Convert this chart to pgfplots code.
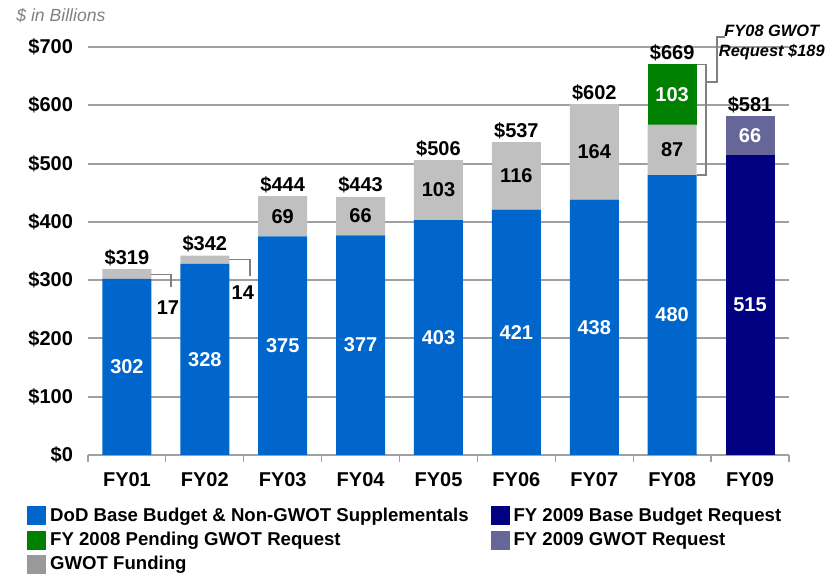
\documentclass[border=0pt]{standalone}
\usepackage{pgfplots}
\pgfplotsset{compat=1.18}
\usepackage{fontspec}
\setmainfont{Liberation Sans}

\definecolor{dodblue}{HTML}{0066CC}
\definecolor{gwotgrey}{HTML}{C0C0C0}
\definecolor{leggrey}{HTML}{999999}
\definecolor{pendgreen}{HTML}{008000}
\definecolor{navyreq}{HTML}{000080}
\definecolor{purpreq}{HTML}{666699}
\definecolor{gridgrey}{HTML}{A0A0A0}
\definecolor{brackgrey}{HTML}{808080}

\tikzset{
  tot/.style={anchor=south, inner sep=1.5pt, font=\fontsize{10}{12}\selectfont\bfseries},
  seg/.style={inner sep=0pt, font=\fontsize{10}{12}\selectfont\bfseries},
  wseg/.style={seg, text=white},
  brk/.style={brackgrey, line width=0.75pt},
}
\pgfplotsset{
  frame/.style={at={(0,0)}, anchor=south west,
    scale only axis, width=350.5pt, height=204pt,
    xmin=-0.5, xmax=8.5, ymin=0, ymax=700, clip=false},
}

\begin{document}
\begin{tikzpicture}
\begin{axis}[
  frame,
  ybar stacked, bar width=24.5pt,
  xtick={0,...,8},
  xticklabels={FY01,FY02,FY03,FY04,FY05,FY06,FY07,FY08,FY09},
  minor xtick={-0.5,0.5,...,8.5},
  ytick={0,100,...,700},
  yticklabels={\$0,\$100,\$200,\$300,\$400,\$500,\$600,\$700},
  ymajorgrids, grid style={gridgrey, line width=1pt},
  axis x line*=bottom, axis y line*=left,
  x axis line style={gridgrey, line width=0.8pt, -},
  y axis line style={draw=none},
  tick align=outside, major tick length=0pt, minor tick length=3.5pt,
  minor tick style={gridgrey, line width=0.6pt},
  ytick style={draw=none},
  tick label style={font=\fontsize{10}{12}\selectfont\bfseries},
  xticklabel style={yshift=-5pt},
  yticklabel style={xshift=-4pt},
]
% stacking order: base, FY09 base, GWOT funding, FY08 pending, FY09 GWOT
\addplot[fill=dodblue, draw=none] coordinates
  {(0,302) (1,328) (2,375) (3,377) (4,403) (5,421) (6,438) (7,480) (8,0)};
\addplot[fill=navyreq, draw=none] coordinates
  {(0,0) (1,0) (2,0) (3,0) (4,0) (5,0) (6,0) (7,0) (8,515)};
\addplot[fill=gwotgrey, draw=none] coordinates
  {(0,17) (1,14) (2,69) (3,66) (4,103) (5,116) (6,164) (7,87) (8,0)};
\addplot[fill=pendgreen, draw=none] coordinates
  {(0,0) (1,0) (2,0) (3,0) (4,0) (5,0) (6,0) (7,103) (8,0)};
\addplot[fill=purpreq, draw=none] coordinates
  {(0,0) (1,0) (2,0) (3,0) (4,0) (5,0) (6,0) (7,0) (8,66)};
\end{axis}

% labels, brackets and legend in an overlay axis with the same scale
\begin{axis}[
  frame, hide axis,
  legend columns=2,
  legend cell align=left,
  legend style={at={(-0.087,-0.118)}, anchor=north west, draw=none,
    inner sep=0pt, row sep=0pt,
    font=\fontsize{9.3}{11}\selectfont\bfseries,
    /tikz/every even column/.append style={column sep=9pt}},
]
\addlegendimage{legend image code/.code={\fill[dodblue] (0pt,-4.5pt) rectangle (9pt,4.5pt);}}
\addlegendentry{DoD Base Budget \& Non-GWOT Supplementals}
\addlegendimage{legend image code/.code={\fill[navyreq] (0pt,-4.5pt) rectangle (9pt,4.5pt);}}
\addlegendentry{FY 2009 Base Budget Request}
\addlegendimage{legend image code/.code={\fill[pendgreen] (0pt,-4.5pt) rectangle (9pt,4.5pt);}}
\addlegendentry{FY 2008 Pending GWOT Request}
\addlegendimage{legend image code/.code={\fill[purpreq] (0pt,-4.5pt) rectangle (9pt,4.5pt);}}
\addlegendentry{FY 2009 GWOT Request}
\addlegendimage{legend image code/.code={\fill[leggrey] (0pt,-4.5pt) rectangle (9pt,4.5pt);}}
\addlegendentry{GWOT Funding}

% totals above the bars
\node[tot] at (axis cs:0,319) {\$319};
\node[tot] at (axis cs:1,342) {\$342};
\node[tot] at (axis cs:2,444) {\$444};
\node[tot] at (axis cs:3,443) {\$443};
\node[tot] at (axis cs:4,506) {\$506};
\node[tot] at (axis cs:5,537) {\$537};
\node[tot] at (axis cs:6,602) {\$602};
\node[tot] at (axis cs:7,670) {\$669};
\node[tot] at (axis cs:8,581) {\$581};

% segment values
\node[wseg] at (axis cs:0,151) {302};
\node[wseg] at (axis cs:1,164) {328};
\node[wseg] at (axis cs:2,187.5) {375};
\node[wseg] at (axis cs:3,188.5) {377};
\node[wseg] at (axis cs:4,201.5) {403};
\node[wseg] at (axis cs:5,210.5) {421};
\node[wseg] at (axis cs:6,219) {438};
\node[wseg] at (axis cs:7,240) {480};
\node[wseg] at (axis cs:8,257.5) {515};
\node[seg] at (axis cs:0.526,252) {17};
\node[seg] at (axis cs:1.487,278) {14};
\node[seg] at (axis cs:2,409.5) {69};
\node[seg] at (axis cs:3,410) {66};
\node[seg] at (axis cs:4,454.5) {103};
\node[seg] at (axis cs:5,479) {116};
\node[seg] at (axis cs:6,520) {164};
\node[seg] at (axis cs:7,523.5) {87};
\node[wseg] at (axis cs:7,618.5) {103};
\node[wseg] at (axis cs:8,548) {66};

% brackets
\draw[brk] (axis cs:0.314,310) -- (axis cs:0.564,310) -- (axis cs:0.564,288);
\draw[brk] (axis cs:1.314,335) -- (axis cs:1.577,335) -- (axis cs:1.577,307);
\draw[brk] (axis cs:7.314,670) -- (axis cs:7.436,670) -- (axis cs:7.436,480) -- (axis cs:7.314,480);
\draw[brk] (axis cs:7.436,640) -- (axis cs:7.577,640) -- (axis cs:7.577,717) -- (axis cs:7.68,717);
\node[align=center, inner sep=0pt, font=\fontsize{8.2}{10}\selectfont\bfseries\itshape] at (axis cs:8.28,707) {FY08 GWOT\\Request \$189};

\node[anchor=west, inner sep=0pt, text=brackgrey, font=\fontsize{8.8}{10}\selectfont\itshape] at (rel axis cs:-0.1027,1.078) {\$ in Billions};
\end{axis}
\path[use as bounding box] (-44pt,-60.5pt) rectangle (374pt,227.5pt);
\end{tikzpicture}
\end{document}
